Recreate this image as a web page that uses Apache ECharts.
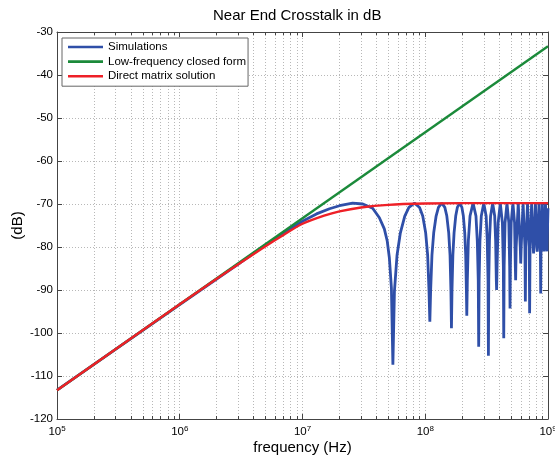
<!DOCTYPE html>
<html>
<head>
<meta charset="utf-8">
<title>Near End Crosstalk in dB</title>
<script src="https://cdn.jsdelivr.net/npm/echarts@6/dist/echarts.min.js"></script>
<style>
  html, body { margin: 0; padding: 0; background: #fff; }
  #chart { width: 555px; height: 457px; }
</style>
</head>
<body>
<div id="chart"></div>
<script>
  // values: [frequency (Hz), dB]
  var lowFreqClosedForm = [
    [1e5, -113.3], [1e9, -33.3]
  ]

  var directMatrix = [
    [1e5, -113.3], [1e6, -93.3], [2e6, -87.4], [3e6, -84.0], [5e6, -79.8],
    [7e6, -77.2], [1e7, -74.6], [1.5e7, -72.7], [2e7, -71.7], [3e7, -70.8],
    [5e7, -70.2], [1e8, -69.9], [2e8, -69.8], [1e9, -69.8]
  ]

  var simulations = [
    [1e5, -113.3], [1e6, -93.4], [3e6, -84.0], [5e6, -79.5], [7e6, -76.8],
    [1e7, -74.0], [1.3e7, -72.3], [1.66e7, -71.1], [2e7, -70.4], [2.56e7, -69.8],
    [3.1e7, -70.0], [3.73e7, -71.0], [4.23e7, -73.2], [4.64e7, -75.8], [4.9e7, -78.6],
    [5.1e7, -82.5], [5.3e7, -89.5], [5.45e7, -107.4],
    // lobe 1
    [5.61e7, -90.3], [5.89e7, -81.9], [6.27e7, -76.7], [6.81e7, -72.8], [7.36e7, -70.8],
    [8.18e7, -69.8], [8.99e7, -70.8], [9.54e7, -72.8], [1.008e8, -76.7], [1.046e8, -81.9],
    [1.073e8, -90.3], [1.09e8, -97.4],
    // lobe 2
    [1.106e8, -90.3], [1.134e8, -81.9], [1.172e8, -76.7], [1.226e8, -72.8], [1.281e8, -70.8],
    [1.3625e8, -69.8], [1.444e8, -70.8], [1.499e8, -72.8], [1.553e8, -76.7], [1.592e8, -81.9],
    [1.619e8, -90.3], [1.635e8, -98.9],
    // lobe 3
    [1.651e8, -90.3], [1.679e8, -81.9], [1.717e8, -76.7], [1.771e8, -72.8], [1.826e8, -70.8],
    [1.9075e8, -69.8], [1.989e8, -70.8], [2.044e8, -72.8], [2.098e8, -76.7], [2.136e8, -81.9],
    [2.164e8, -90.3], [2.18e8, -96.0],
    // lobes 4 - 6
    [2.202e8, -87.8], [2.245e8, -78.5], [2.316e8, -72.8], [2.4525e8, -69.8], [2.589e8, -72.8],
    [2.654e8, -78.5], [2.703e8, -87.8], [2.725e8, -103.2],
    [2.747e8, -87.8], [2.79e8, -78.5], [2.861e8, -72.8], [2.9975e8, -69.8], [3.134e8, -72.8],
    [3.199e8, -78.5], [3.248e8, -87.8], [3.27e8, -105.3],
    [3.292e8, -87.8], [3.335e8, -78.5], [3.406e8, -72.8], [3.5425e8, -69.8], [3.679e8, -72.8],
    [3.744e8, -78.5], [3.793e8, -87.8], [3.815e8, -90.0],
    // lobes 7 - 9
    [3.848e8, -84.4], [3.924e8, -74.4], [4.0875e8, -69.8], [4.251e8, -74.4], [4.327e8, -84.4],
    [4.36e8, -101.2],
    [4.393e8, -84.4], [4.469e8, -74.4], [4.6325e8, -69.8], [4.796e8, -74.4], [4.872e8, -84.4],
    [4.905e8, -94.3],
    [4.938e8, -84.4], [5.014e8, -74.4], [5.1775e8, -69.8], [5.341e8, -74.4], [5.417e8, -84.4],
    [5.45e8, -87.7],
    // lobes 10 - 18
    [5.505e8, -80], [5.7225e8, -69.8], [5.941e8, -80], [5.995e8, -83.8],
    [6.05e8, -80], [6.2675e8, -69.8], [6.486e8, -80], [6.54e8, -92.7],
    [6.595e8, -80], [6.8125e8, -69.8], [7.031e8, -80], [7.085e8, -95.4],
    [7.14e8, -80], [7.3575e8, -69.8], [7.576e8, -80], [7.63e8, -81.5],
    [7.685e8, -80], [7.9025e8, -69.8], [8.121e8, -80], [8.175e8, -81.1],
    [8.23e8, -80], [8.4475e8, -69.8], [8.666e8, -80], [8.72e8, -90.8],
    [8.775e8, -80], [8.9925e8, -69.8], [9.211e8, -80], [9.265e8, -81.0],
    [9.32e8, -80], [9.5375e8, -69.8], [9.756e8, -80], [9.81e8, -81.0],
    [1e9, -71.0]
  ]

  var fontFamily = '"Liberation Sans", Arial, Helvetica, sans-serif'
  var axisColor = '#444'
  var gridColor = '#b8b8b8'

  var chart = echarts.init(document.getElementById('chart'))

  var option = {
    animation: false,
    backgroundColor: '#fff',
    textStyle: { fontFamily: fontFamily },
    title: {
      text: 'Near End Crosstalk in dB',
      left: 213,
      top: 8,
      padding: 0,
      textStyle: { fontSize: 15, fontWeight: 'normal', color: '#000', fontFamily: fontFamily }
    },
    legend: {
      orient: 'vertical',
      left: 62,
      top: 38,
      padding: [3, 2, 4, 6],
      icon: 'rect',
      itemWidth: 35,
      itemHeight: 2.6,
      itemGap: 2.6,
      backgroundColor: '#fff',
      borderColor: '#666',
      borderWidth: 1,
      borderRadius: 0,
      textStyle: { fontSize: 11.5, color: '#000', lineHeight: 12, fontFamily: fontFamily },
      data: ['Simulations', 'Low-frequency closed form', 'Direct matrix solution']
    },
    grid: {
      left: 57,
      right: 7,
      top: 32,
      bottom: 38,
      containLabel: false,
      outerBoundsMode: 'none'
    },
    xAxis: [{
      type: 'log',
      logBase: 10,
      min: 1e5,
      max: 1e9,
      name: 'frequency (Hz)',
      nameLocation: 'middle',
      nameGap: 21,
      nameMoveOverlap: false,
      nameTextStyle: { fontSize: 15, color: '#000' },
      axisLine: { lineStyle: { color: axisColor } },
      axisTick: { inside: true, length: 5, lineStyle: { color: axisColor } },
      minorTick: { show: true, splitNumber: 9, length: 3, lineStyle: { color: axisColor } },
      splitLine: { show: true, lineStyle: { color: gridColor, type: [1, 2] } },
      minorSplitLine: { show: true, lineStyle: { color: gridColor, type: [1, 2] } },
      axisLabel: {
        margin: 6,
        color: '#000',
        fontSize: 11.5,
        formatter: function(v) {
          return '10{e|' + Math.round(Math.log10(v)) + '}'
        },
        rich: {
          e: { fontSize: 8, verticalAlign: 'top', padding: [0, 0, 6, 0] }
        }
      }
    }, {
      type: 'log',
      logBase: 10,
      min: 1e5,
      max: 1e9,
      position: 'top',
      axisLine: { lineStyle: { color: axisColor } },
      axisTick: { inside: true, length: 5, lineStyle: { color: axisColor } },
      minorTick: { show: true, splitNumber: 9, length: 3, lineStyle: { color: axisColor } },
      splitLine: { show: false },
      axisLabel: { show: false }
    }],
    yAxis: [{
      type: 'value',
      min: -120,
      max: -30,
      interval: 10,
      name: '(dB)',
      nameLocation: 'middle',
      nameGap: 32,
      nameMoveOverlap: false,
      nameTextStyle: { fontSize: 15, color: '#000' },
      axisLine: { show: true, lineStyle: { color: axisColor } },
      axisTick: { show: true, inside: true, length: 5, lineStyle: { color: axisColor } },
      splitLine: { show: true, lineStyle: { color: gridColor, type: [1, 2] } },
      axisLabel: { margin: 4, color: '#000', fontSize: 11.5 }
    }, {
      type: 'value',
      min: -120,
      max: -30,
      interval: 10,
      position: 'right',
      axisLine: { show: true, lineStyle: { color: axisColor } },
      axisTick: { show: true, inside: true, length: 5, lineStyle: { color: axisColor } },
      splitLine: { show: false },
      axisLabel: { show: false }
    }],
    series: [{
      name: 'Simulations',
      type: 'line',
      symbol: 'none',
      lineStyle: { color: '#2f4fa8', width: 2.8 },
      itemStyle: { color: '#2f4fa8' },
      data: simulations
    }, {
      name: 'Low-frequency closed form',
      type: 'line',
      symbol: 'none',
      lineStyle: { color: '#1b8a3a', width: 2.4 },
      itemStyle: { color: '#1b8a3a' },
      data: lowFreqClosedForm
    }, {
      name: 'Direct matrix solution',
      type: 'line',
      symbol: 'none',
      smooth: 0.3,
      lineStyle: { color: '#ee2027', width: 2.4 },
      itemStyle: { color: '#ee2027' },
      data: directMatrix
    }]
  }

  chart.setOption(option)
</script>
</body>
</html>
